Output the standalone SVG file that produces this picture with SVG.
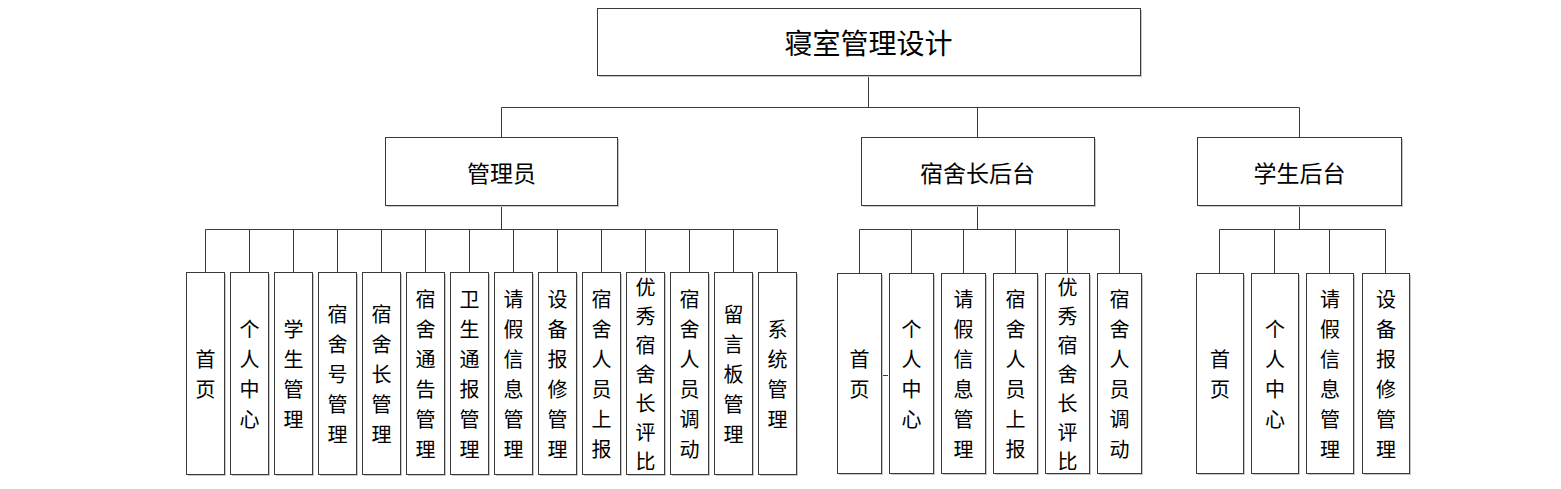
<svg xmlns="http://www.w3.org/2000/svg" width="1561" height="489" viewBox="0 0 1561 489">
<style>
.box{fill:#fff;stroke:#3a3a3a;stroke-width:1}
.sh{fill:#c8c8c8}
.t{font-family:"Noto Sans CJK SC","Liberation Sans",sans-serif;fill:#000;text-anchor:middle;dominant-baseline:central}
.top{font-size:28px}
.mid{font-size:23px}
.leaf{font-size:20px}
.c{stroke:#3a3a3a;stroke-width:1;fill:none}
</style>
<rect width="1561" height="489" fill="#fff"/>
<g id="connectors">
<path class="c" d="M868.5 75V107.5M501.5 107.5H1299.5M501.5 107.5V137M977.5 107.5V137M1299.5 107.5V137"/>
<path class="c" d="M501.5 205V229.5M205.5 229.5H777.5M205.5 229.5V272M249.5 229.5V272M293.5 229.5V272M337.5 229.5V272M381.5 229.5V272M425.5 229.5V272M469.5 229.5V272M513.5 229.5V272M557.5 229.5V272M601.5 229.5V272M645.5 229.5V272M689.5 229.5V272M733.5 229.5V272M777.5 229.5V272"/>
<path class="c" d="M977.5 205V229.5M859.5 229.5H1119.5M859.5 229.5V273M911.5 229.5V273M963.5 229.5V273M1015.5 229.5V273M1067.5 229.5V273M1119.5 229.5V273M881 375.5H888"/>
<path class="c" d="M1299.5 205V229.5M1219.5 229.5H1385.5M1219.5 229.5V273M1274.5 229.5V273M1329.5 229.5V273M1385.5 229.5V273"/>
</g>
<g id="root"><rect class="sh" x="599" y="10" width="543" height="67"/><rect class="box" x="597.5" y="8.5" width="543" height="67"/><text class="t top" x="868.5" y="42">寝室管理设计</text></g>
<g id="admin"><rect class="sh" x="387" y="139" width="232" height="68"/><rect class="box" x="385.5" y="137.5" width="232" height="68"/><text class="t mid" x="501.5" y="171.5">管理员</text></g>
<g id="dormhead"><rect class="sh" x="863" y="139" width="233" height="68"/><rect class="box" x="861.5" y="137.5" width="233" height="68"/><text class="t mid" x="977.5" y="171.5">宿舍长后台</text></g>
<g id="student"><rect class="sh" x="1199" y="139" width="204" height="68"/><rect class="box" x="1197.5" y="137.5" width="204" height="68"/><text class="t mid" x="1299.5" y="171.5">学生后台</text></g>

<g id="a1"><rect class="sh" x="188" y="274" width="38" height="202"/><rect class="box" x="186.5" y="272.5" width="38" height="202"/><text class="t leaf" x="205.5"><tspan x="205.5" y="358">首</tspan><tspan x="205.5" y="388">页</tspan></text></g>
<g id="a2"><rect class="sh" x="232" y="274" width="38" height="202"/><rect class="box" x="230.5" y="272.5" width="38" height="202"/><text class="t leaf"><tspan x="249.5" y="328">个</tspan><tspan x="249.5" y="358">人</tspan><tspan x="249.5" y="388">中</tspan><tspan x="249.5" y="418">心</tspan></text></g>
<g id="a3"><rect class="sh" x="276" y="274" width="38" height="202"/><rect class="box" x="274.5" y="272.5" width="38" height="202"/><text class="t leaf"><tspan x="293.5" y="328">学</tspan><tspan x="293.5" y="358">生</tspan><tspan x="293.5" y="388">管</tspan><tspan x="293.5" y="418">理</tspan></text></g>
<g id="a4"><rect class="sh" x="320" y="274" width="38" height="202"/><rect class="box" x="318.5" y="272.5" width="38" height="202"/><text class="t leaf"><tspan x="337.5" y="313">宿</tspan><tspan x="337.5" y="343">舍</tspan><tspan x="337.5" y="373">号</tspan><tspan x="337.5" y="403">管</tspan><tspan x="337.5" y="433">理</tspan></text></g>
<g id="a5"><rect class="sh" x="364" y="274" width="38" height="202"/><rect class="box" x="362.5" y="272.5" width="38" height="202"/><text class="t leaf"><tspan x="381.5" y="313">宿</tspan><tspan x="381.5" y="343">舍</tspan><tspan x="381.5" y="373">长</tspan><tspan x="381.5" y="403">管</tspan><tspan x="381.5" y="433">理</tspan></text></g>
<g id="a6"><rect class="sh" x="408" y="274" width="38" height="202"/><rect class="box" x="406.5" y="272.5" width="38" height="202"/><text class="t leaf"><tspan x="425.5" y="298">宿</tspan><tspan x="425.5" y="328">舍</tspan><tspan x="425.5" y="358">通</tspan><tspan x="425.5" y="388">告</tspan><tspan x="425.5" y="418">管</tspan><tspan x="425.5" y="448">理</tspan></text></g>
<g id="a7"><rect class="sh" x="452" y="274" width="38" height="202"/><rect class="box" x="450.5" y="272.5" width="38" height="202"/><text class="t leaf"><tspan x="469.5" y="298">卫</tspan><tspan x="469.5" y="328">生</tspan><tspan x="469.5" y="358">通</tspan><tspan x="469.5" y="388">报</tspan><tspan x="469.5" y="418">管</tspan><tspan x="469.5" y="448">理</tspan></text></g>
<g id="a8"><rect class="sh" x="496" y="274" width="38" height="202"/><rect class="box" x="494.5" y="272.5" width="38" height="202"/><text class="t leaf"><tspan x="513.5" y="298">请</tspan><tspan x="513.5" y="328">假</tspan><tspan x="513.5" y="358">信</tspan><tspan x="513.5" y="388">息</tspan><tspan x="513.5" y="418">管</tspan><tspan x="513.5" y="448">理</tspan></text></g>
<g id="a9"><rect class="sh" x="540" y="274" width="38" height="202"/><rect class="box" x="538.5" y="272.5" width="38" height="202"/><text class="t leaf"><tspan x="557.5" y="298">设</tspan><tspan x="557.5" y="328">备</tspan><tspan x="557.5" y="358">报</tspan><tspan x="557.5" y="388">修</tspan><tspan x="557.5" y="418">管</tspan><tspan x="557.5" y="448">理</tspan></text></g>
<g id="a10"><rect class="sh" x="584" y="274" width="38" height="202"/><rect class="box" x="582.5" y="272.5" width="38" height="202"/><text class="t leaf"><tspan x="601.5" y="298">宿</tspan><tspan x="601.5" y="328">舍</tspan><tspan x="601.5" y="358">人</tspan><tspan x="601.5" y="388">员</tspan><tspan x="601.5" y="418">上</tspan><tspan x="601.5" y="448">报</tspan></text></g>
<g id="a11"><rect class="sh" x="628" y="274" width="38" height="202"/><rect class="box" x="626.5" y="272.5" width="38" height="202"/><text class="t leaf"><tspan x="645.5" y="286">优</tspan><tspan x="645.5" y="315">秀</tspan><tspan x="645.5" y="344">宿</tspan><tspan x="645.5" y="373">舍</tspan><tspan x="645.5" y="402">长</tspan><tspan x="645.5" y="431">评</tspan><tspan x="645.5" y="460">比</tspan></text></g>
<g id="a12"><rect class="sh" x="672" y="274" width="38" height="202"/><rect class="box" x="670.5" y="272.5" width="38" height="202"/><text class="t leaf"><tspan x="689.5" y="298">宿</tspan><tspan x="689.5" y="328">舍</tspan><tspan x="689.5" y="358">人</tspan><tspan x="689.5" y="388">员</tspan><tspan x="689.5" y="418">调</tspan><tspan x="689.5" y="448">动</tspan></text></g>
<g id="a13"><rect class="sh" x="716" y="274" width="38" height="202"/><rect class="box" x="714.5" y="272.5" width="38" height="202"/><text class="t leaf"><tspan x="733.5" y="313">留</tspan><tspan x="733.5" y="343">言</tspan><tspan x="733.5" y="373">板</tspan><tspan x="733.5" y="403">管</tspan><tspan x="733.5" y="433">理</tspan></text></g>
<g id="a14"><rect class="sh" x="760" y="274" width="38" height="202"/><rect class="box" x="758.5" y="272.5" width="38" height="202"/><text class="t leaf"><tspan x="777.5" y="328">系</tspan><tspan x="777.5" y="358">统</tspan><tspan x="777.5" y="388">管</tspan><tspan x="777.5" y="418">理</tspan></text></g>

<g id="d1"><rect class="sh" x="839" y="275" width="44" height="200"/><rect class="box" x="837.5" y="273.5" width="44" height="200"/><text class="t leaf"><tspan x="859.5" y="358">首</tspan><tspan x="859.5" y="388">页</tspan></text></g>
<g id="d2"><rect class="sh" x="891" y="275" width="44" height="200"/><rect class="box" x="889.5" y="273.5" width="44" height="200"/><text class="t leaf"><tspan x="911.5" y="328">个</tspan><tspan x="911.5" y="358">人</tspan><tspan x="911.5" y="388">中</tspan><tspan x="911.5" y="418">心</tspan></text></g>
<g id="d3"><rect class="sh" x="943" y="275" width="44" height="200"/><rect class="box" x="941.5" y="273.5" width="44" height="200"/><text class="t leaf"><tspan x="963.5" y="298">请</tspan><tspan x="963.5" y="328">假</tspan><tspan x="963.5" y="358">信</tspan><tspan x="963.5" y="388">息</tspan><tspan x="963.5" y="418">管</tspan><tspan x="963.5" y="448">理</tspan></text></g>
<g id="d4"><rect class="sh" x="995" y="275" width="44" height="200"/><rect class="box" x="993.5" y="273.5" width="44" height="200"/><text class="t leaf"><tspan x="1015.5" y="298">宿</tspan><tspan x="1015.5" y="328">舍</tspan><tspan x="1015.5" y="358">人</tspan><tspan x="1015.5" y="388">员</tspan><tspan x="1015.5" y="418">上</tspan><tspan x="1015.5" y="448">报</tspan></text></g>
<g id="d5"><rect class="sh" x="1047" y="275" width="44" height="200"/><rect class="box" x="1045.5" y="273.5" width="44" height="200"/><text class="t leaf"><tspan x="1067.5" y="286">优</tspan><tspan x="1067.5" y="315">秀</tspan><tspan x="1067.5" y="344">宿</tspan><tspan x="1067.5" y="373">舍</tspan><tspan x="1067.5" y="402">长</tspan><tspan x="1067.5" y="431">评</tspan><tspan x="1067.5" y="460">比</tspan></text></g>
<g id="d6"><rect class="sh" x="1099" y="275" width="44" height="200"/><rect class="box" x="1097.5" y="273.5" width="44" height="200"/><text class="t leaf"><tspan x="1119.5" y="298">宿</tspan><tspan x="1119.5" y="328">舍</tspan><tspan x="1119.5" y="358">人</tspan><tspan x="1119.5" y="388">员</tspan><tspan x="1119.5" y="418">调</tspan><tspan x="1119.5" y="448">动</tspan></text></g>

<g id="s1"><rect class="sh" x="1198" y="275" width="47" height="200"/><rect class="box" x="1196.5" y="273.5" width="47" height="200"/><text class="t leaf"><tspan x="1220" y="358">首</tspan><tspan x="1220" y="388">页</tspan></text></g>
<g id="s2"><rect class="sh" x="1253" y="275" width="47" height="200"/><rect class="box" x="1251.5" y="273.5" width="47" height="200"/><text class="t leaf"><tspan x="1275" y="328">个</tspan><tspan x="1275" y="358">人</tspan><tspan x="1275" y="388">中</tspan><tspan x="1275" y="418">心</tspan></text></g>
<g id="s3"><rect class="sh" x="1308" y="275" width="47" height="200"/><rect class="box" x="1306.5" y="273.5" width="47" height="200"/><text class="t leaf"><tspan x="1330" y="298">请</tspan><tspan x="1330" y="328">假</tspan><tspan x="1330" y="358">信</tspan><tspan x="1330" y="388">息</tspan><tspan x="1330" y="418">管</tspan><tspan x="1330" y="448">理</tspan></text></g>
<g id="s4"><rect class="sh" x="1364" y="275" width="47" height="200"/><rect class="box" x="1362.5" y="273.5" width="47" height="200"/><text class="t leaf"><tspan x="1386" y="298">设</tspan><tspan x="1386" y="328">备</tspan><tspan x="1386" y="358">报</tspan><tspan x="1386" y="388">修</tspan><tspan x="1386" y="418">管</tspan><tspan x="1386" y="448">理</tspan></text></g>
</svg>
